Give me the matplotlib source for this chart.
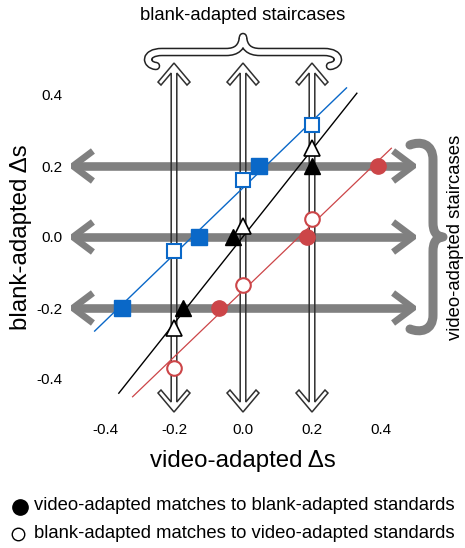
import matplotlib
matplotlib.use("Agg")
import matplotlib.pyplot as plt
import matplotlib.patheffects as pe
from matplotlib.path import Path
from matplotlib.patches import PathPatch, Polygon
from matplotlib.lines import Line2D

plt.rcParams['font.family'] = ['Liberation Sans', 'DejaVu Sans']

# standard levels of the staircases
standards = [-0.2, 0.0, 0.2]

# filled: video-adapted matches to blank-adapted standards (y = standard)
# open:   blank-adapted matches to video-adapted standards (x = standard)
blue_fill_x = [-0.35, -0.128, 0.046]
blue_fill_y = [-0.2, 0.0, 0.2]
blue_open_x = [-0.2, 0.0, 0.2]
blue_open_y = [-0.04, 0.16, 0.315]

black_fill_x = [-0.174, -0.03, 0.2]
black_fill_y = [-0.2, 0.0, 0.2]
black_open_x = [-0.2, 0.0, 0.2]
black_open_y = [-0.255, 0.03, 0.25]

red_fill_x = [-0.07, 0.185, 0.39]
red_fill_y = [-0.2, 0.0, 0.2]
red_open_x = [-0.2, 0.0, 0.2]
red_open_y = [-0.37, -0.135, 0.05]

# fitted lines, end points
blue_fit_x = [-0.43, 0.30]
blue_fit_y = [-0.265, 0.42]
black_fit_x = [-0.36, 0.33]
black_fit_y = [-0.44, 0.405]
red_fit_x = [-0.32, 0.43]
red_fit_y = [-0.45, 0.25]

ticks = [-0.4, -0.2, 0.0, 0.2, 0.4]
tick_labels = ['-0.4', '-0.2', '0.0', '0.2', '0.4']

BLUE = '#0a68c8'
RED = '#cc4548'
GRAY = '#808080'

fig = plt.figure(figsize=(4.65, 5.48), dpi=100)
ax = fig.add_axes([70.5 / 465, (548 - 414.5) / 548, 345 / 465, 355 / 548])
ax.set_xlim(-0.5, 0.5)
ax.set_ylim(-0.5, 0.5)
for s in ax.spines.values():
    s.set_visible(False)
ax.set_xticks(ticks)
ax.set_yticks(ticks)
ax.set_xticklabels(tick_labels)
ax.set_yticklabels(tick_labels)
ax.tick_params(length=0, labelsize=11)
ax.tick_params(axis='x', pad=6)
ax.tick_params(axis='y', pad=6)

# pixel scale of the data units (for arrow shapes)
sx, sy = 345.0, 355.0

# gray horizontal arrows (video-adapted staircases)
tip = 0.493
hl, hw = 20 / sx, 15 / sy
for y in standards:
    ax.plot([-tip + 0.01, tip - 0.01], [y, y], color=GRAY, lw=6.2,
            solid_capstyle='butt', zorder=1)
    ax.plot([-tip + hl, -tip, -tip + hl], [y + hw, y, y - hw], color=GRAY,
            lw=4.8, solid_joinstyle='miter', solid_capstyle='butt', zorder=1)
    ax.plot([tip - hl, tip, tip - hl], [y + hw, y, y - hw], color=GRAY,
            lw=4.8, solid_joinstyle='miter', solid_capstyle='butt', zorder=1)

# hollow vertical arrows (blank-adapted staircases)
top, bot = 0.49, -0.493
w, ahw, ahl = 2.8, 16.0, 19.0
k = 10.0
half = [(0, 0), (ahw, ahl), (ahw - 3, ahl + 3), (w, k)]
for x in standards:
    pts = []
    for dx, dy in half:
        pts.append((x + dx / sx, top - dy / sy))
    for dx, dy in reversed(half):
        pts.append((x + dx / sx, bot + dy / sy))
    for dx, dy in half[1:]:
        pts.append((x - dx / sx, bot + dy / sy))
    for dx, dy in reversed(half[1:]):
        pts.append((x - dx / sx, top - dy / sy))
    ax.add_patch(Polygon(pts, closed=True, fill=False, edgecolor='#303030',
                         lw=1.1, joinstyle='miter', zorder=2, clip_on=False))

# fitted lines
ax.plot(blue_fit_x, blue_fit_y, color=BLUE, lw=1.0, zorder=3)
ax.plot(black_fit_x, black_fit_y, color='black', lw=1.0, zorder=3)
ax.plot(red_fit_x, red_fit_y, color=RED, lw=0.9, zorder=3)

# data points
ax.plot(blue_fill_x, blue_fill_y, 's', ms=11, color=BLUE, mec=BLUE, zorder=4)
ax.plot(blue_open_x, blue_open_y, 's', ms=10.5, mfc='white', mec=BLUE, mew=1.5, zorder=4)
ax.plot(black_fill_x, black_fill_y, '^', ms=11.5, color='black', zorder=4)
ax.plot(black_open_x, black_open_y, '^', ms=11.5, mfc='white', mec='black', mew=1.2, zorder=4)
ax.plot(red_fill_x, red_fill_y, 'o', ms=11, color=RED, mec=RED, zorder=4)
ax.plot(red_open_x, red_open_y, 'o', ms=10.5, mfc='white', mec=RED, mew=1.5, zorder=4)

# braces, drawn in data units outside the axes
def to_data(pts):
    return [((px - 243) / sx, (237 - py) / sy) for px, py in pts]

M, L, C = Path.MOVETO, Path.LINETO, Path.CURVE4
top_brace = [(156, 66), (145, 65), (144, 52), (162, 52), (226, 52),
             (237, 52), (242, 47), (243, 37), (244, 47), (249, 52), (260, 52),
             (324, 52), (342, 52), (341, 65), (330, 66)]
brace_codes = [M, C, C, C, L, C, C, C, C, C, C, L, C, C, C]
brace = PathPatch(Path(to_data(top_brace), brace_codes), facecolor='none',
                  edgecolor='white', lw=4.0, capstyle='round', joinstyle='round',
                  clip_on=False, zorder=2,
                  path_effects=[pe.Stroke(linewidth=6.2, foreground='#222222'),
                                pe.Normal()])
ax.add_patch(brace)

right_brace = [(410, 145), (420, 141), (433, 143), (433, 160), (433, 222),
               (433, 232), (436, 236), (443, 237), (436, 238), (433, 242), (433, 252),
               (433, 315), (433, 331), (420, 333), (410, 329)]
ax.add_patch(PathPatch(Path(to_data(right_brace), brace_codes), facecolor='none',
                       edgecolor=GRAY, lw=6.5, capstyle='round', joinstyle='round',
                       clip_on=False, zorder=2))

ax.set_xlabel('video-adapted \u0394s', fontsize=17.3)
ax.set_ylabel('blank-adapted \u0394s', fontsize=17.3)
ax.xaxis.set_label_coords(0.5, -(450 - 414.5) / 355, transform=ax.transAxes)
ax.yaxis.set_label_coords(-(70.5 - 32) / 345, 0.5, transform=ax.transAxes)

fig.text(243 / 465, 1 - 16 / 548, 'blank-adapted staircases', fontsize=13.3,
         ha='center', va='center')
fig.text(455 / 465, 1 - 237 / 548, 'video-adapted staircases', fontsize=13.3,
         ha='center', va='center', rotation=90)

# key below the axes
fig.add_artist(Line2D([20 / 465], [1 - 507 / 548], marker='o', ms=11,
                      color='black', transform=fig.transFigure))
fig.add_artist(Line2D([18 / 465], [1 - 534 / 548], marker='o', ms=9,
                      mfc='white', mec='black', mew=1.0, transform=fig.transFigure))
fig.text(34 / 465, 1 - 506 / 548, 'video-adapted matches to blank-adapted standards',
         fontsize=13.3, ha='left', va='center')
fig.text(34 / 465, 1 - 533 / 548, 'blank-adapted matches to video-adapted standards',
         fontsize=13.3, ha='left', va='center')

fig.savefig('out.png', dpi=100)
